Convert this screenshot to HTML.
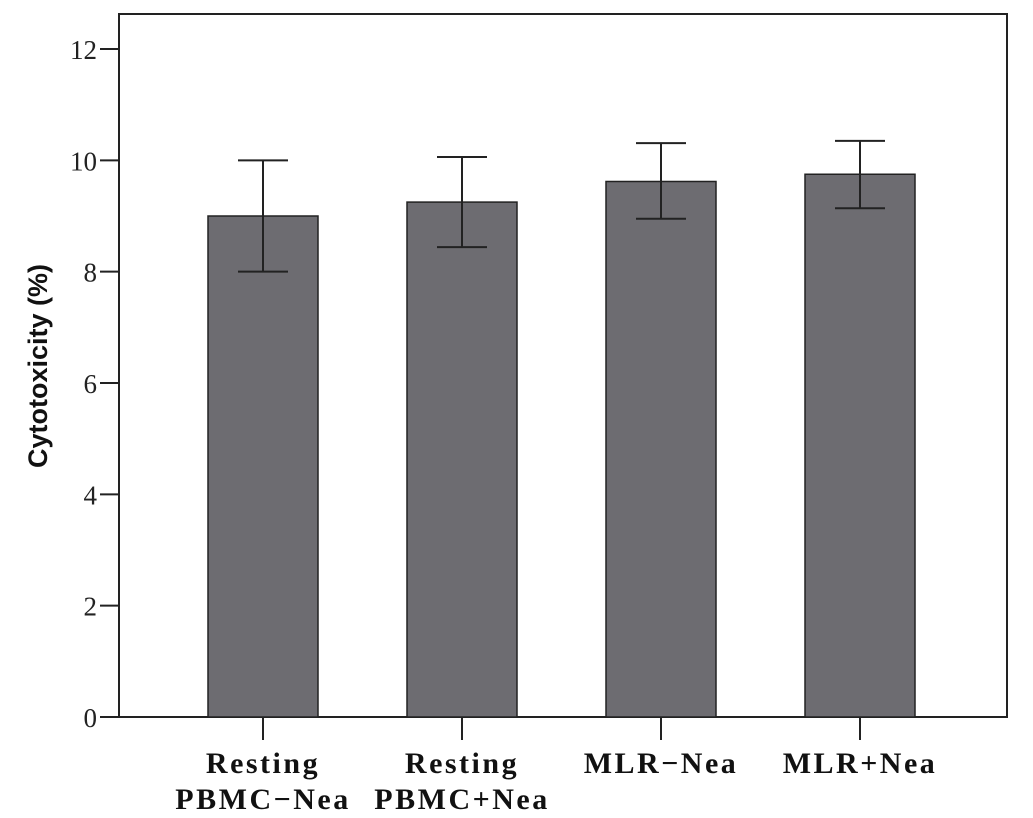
<!DOCTYPE html>
<html><head><meta charset="utf-8"><style>body{margin:0;background:#fff}svg{display:block}</style></head><body>
<svg id="c" width="1033" height="818" xmlns="http://www.w3.org/2000/svg"></svg>
<script>
const categories=[["Resting","PBMC\u2212Nea"],["Resting","PBMC+Nea"],["MLR\u2212Nea"],["MLR+Nea"]];
const values=[9.0,9.25,9.62,9.75];
const errHigh=[10.0,10.06,10.31,10.35];
const errLow=[8.0,8.44,8.95,9.14];
const yTicks=[0,2,4,6,8,10,12];
const NS="http://www.w3.org/2000/svg";
const svg=document.getElementById('c');
const L=119,R=1007,T=14,B=717,yMax=12,y12=49;
const y=v=>B-(B-y12)*v/yMax;
const bandW=199,first=263;
const x=i=>first+i*bandW;
function el(t,a,p){const e=document.createElementNS(NS,t);for(const k in a)e.setAttribute(k,a[k]);(p||svg).appendChild(e);return e;}
const frame=el('rect',{x:L,y:T,width:R-L,height:B-T,fill:'none',stroke:'#222','stroke-width':2});


yTicks.forEach(v=>{
 const t=el('line',{x1:100,x2:L,y1:y(v),y2:y(v),stroke:'#222','stroke-width':2});
 
 
 const l=el('text',{x:97,y:y(v)+10,'text-anchor':'end','font-family':'Liberation Serif, serif','font-size':27,fill:'#222'});
 l.textContent=v;
 
 
});
values.forEach((v,i)=>{
 const cx=x(i);
 const b=el('rect',{x:cx-55,y:y(v),width:110,height:B-y(v),fill:'#6d6c71',stroke:'#222','stroke-width':1.5});
 
 
 const g=el('g',{stroke:'#222','stroke-width':2});
 
 
 el('line',{x1:cx,x2:cx,y1:y(errHigh[i]),y2:y(errLow[i])},g);
 el('line',{x1:cx-25,x2:cx+25,y1:y(errHigh[i]),y2:y(errHigh[i])},g);
 el('line',{x1:cx-25,x2:cx+25,y1:y(errLow[i]),y2:y(errLow[i])},g);
 const tk=el('line',{x1:cx,x2:cx,y1:B,y2:740,stroke:'#222','stroke-width':2});
 
 
 categories[i].forEach((s,j)=>{
  const t=el('text',{x:cx,y:773+j*36,'text-anchor':'middle','font-family':'Liberation Serif, serif','font-weight':'bold','font-size':30,'letter-spacing':2.5,fill:'#111'});
  t.textContent=s;
  
  
 });
});
const yt=el('text',{x:0,y:0,transform:'translate(47,366) rotate(-90)','text-anchor':'middle','font-family':'Liberation Sans, sans-serif','font-weight':'bold','font-size':27,fill:'#111'});
yt.textContent='Cytotoxicity (%)';


</script>
</body></html>
